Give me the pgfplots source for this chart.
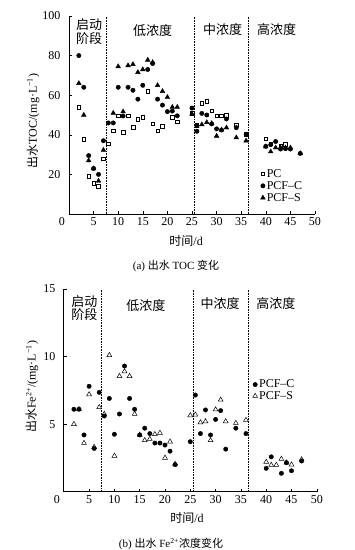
\documentclass[border=0pt]{standalone}
\usepackage{pgfplots}
\pgfplotsset{compat=1.18}
\usepackage{fontspec}
\setmainfont{Liberation Serif}
\newfontfamily\cjk{Noto Sans CJK SC}

\pgfplotstableread{
x y
2 54
3 37.7
4 19.2
5 15.5
6 14
7 28
8 35.5
9 42
10 49.6
11 41.4
12 49.6
13 43.8
14 48
15 49
16 62
17 45.5
18 42
19 44.4
21 48.8
22 46.6
25 51
26 44.9
27 56
28 57
29 52.2
30 49.7
31 49.7
32 50
34 45
36 40.2
40 38
41 35.5
43 34.5
44 35.3
}\tocPC

\pgfplotstableread{
x y
2 80
3 64
4 29.5
5 23
6 20
7 37
8 46
9 46
10 64
11 49.5
12 64
13 62.5
14 58
15 65
16 73
17 76
18 58
19 55
20 51.7
21 52
22 49.6
25 53.5
26 41.8
27 50.8
28 50
29 45.5
30 43
31 42.4
32 48
34 43.6
36 40.3
40 34.2
41 35
42 36.6
43 32.8
44 33
45 32.8
47 30.6
}\tocC

\pgfplotstableread{
x y
2 66
3 50
4 27
5 23
6 16.7
7 32.3
9 51
10 74.5
11 51.7
12 75
13 75.6
14 71.6
15 73
16 77.8
17 76.6
18 65
19 62
20 59
21 54
22 54
25 50.5
26 44.5
27 45.2
28 46.3
29 45.8
30 39.4
31 42.5
32 43.6
34 38.6
36 37
40 34
41 31.5
42 33.5
43 33.5
44 33.5
45 33.5
47 30.6
}\tocS

\pgfplotstableread{
x y
2 6.1
3 6.1
4 4.2
5 7.8
6 3.2
7 7.35
8 5.6
9 6.9
10 4.25
11 5.75
12 9.3
13 6.9
14 6.1
15 4.2
16 4.7
17 4.3
18 3.6
19 3.6
20 3.45
21 3.0
22 2.0
25 3.7
26 7.15
27 4.3
28 6.05
29 4.2
30 5.35
31 6.0
32 3.15
34 4.7
36 4.3
40 1.73
41 2.58
43 1.36
44 2.15
45 1.55
47 2.27
}\feC

\pgfplotstableread{
x y
2 5.0
3 6.1
4 3.6
5 7.2
6 3.3
7 6.25
8 5.75
9 10.1
10 2.65
11 8.55
12 8.9
13 8.55
14 5.75
15 4.2
16 3.8
17 3.9
18 4.25
19 4.35
20 2.5
21 3.7
22 2.05
25 5.65
26 5.7
27 5.12
28 5.2
29 3.8
30 6.08
31 6.8
32 5.2
34 5.08
36 5.3
40 2.2
41 1.98
42 1.98
43 2.42
44 2.15
45 2.0
47 2.38
}\feS

\pgfplotsset{
  panel/.style={
    scale only axis,
    anchor=south west,
    axis lines*=left,
    tick align=inside,
    major tick length=3pt,
    tick style={black, line width=0.5pt},
    axis line style={black, line width=0.6pt},
    xmin=0, xmax=50,
    xtick={5,10,...,50},
    extra x ticks={0},
    extra x tick style={major tick length=0pt, xticklabel style={xshift=-7pt}},
    ticklabel style={font=\fontsize{12}{12}\selectfont},
    /pgf/number format/assume math mode=true,
    yticklabel style={xshift=-5pt},
    clip=false,
    only marks,
    legend image code/.code={\draw[mark repeat=2,mark phase=2,##1] plot coordinates {(0pt,0pt) (3pt,0pt) (7pt,0pt)};},
    legend cell align=left,
    label style={font=\fontsize{12}{13}\selectfont},
  },
}

\begin{document}
\begin{tikzpicture}
\useasboundingbox (0pt,0pt) rectangle (355pt,550pt);

% ---------- (a) TOC ----------
\begin{axis}[panel,
  at={(69pt,336pt)}, width=246pt, height=198pt,
  ymin=0, ymax=100, ytick={20,40,60,80,100},
  xlabel={\cjk 时间\rmfamily/d},
  ylabel={\cjk 出水\rmfamily TOC/(mg·L\textsuperscript{−1})},
  xlabel style={at={(axis description cs:0.476,-0.136)}, anchor=center},
  ylabel style={at={(axis description cs:-0.146,0.47)}, anchor=center},
  legend style={draw=none, fill=none, at={(axis description cs:0.778,0.235)}, anchor=north west,
    font=\fontsize{12}{12}\selectfont, row sep=-0.5pt, inner sep=0pt, nodes={inner sep=1.5pt}},
]
\addplot[mark=square, mark size=1.8pt, black, mark options={line width=0.5pt}] table {\tocPC};
\addlegendentry{PC}
\addplot[mark=*, mark size=2.2pt, black] table {\tocC};
\addlegendentry{PCF--C}
\addplot[mark=triangle*, mark size=2.7pt, black] table {\tocS};
\addlegendentry{PCF--S}
\draw[black, densely dotted, line width=0.6pt] (axis cs:7.5,0) -- (axis cs:7.5,100);
\draw[black, densely dotted, line width=0.6pt] (axis cs:25.5,0) -- (axis cs:25.5,100);
\draw[black, densely dotted, line width=0.6pt] (axis cs:36.5,0) -- (axis cs:36.5,100);
\node[font=\cjk\fontsize{13}{14}\selectfont, align=center] at (axis cs:4.1,91.9) {启动\\阶段};
\node[font=\cjk\fontsize{13}{14}\selectfont] at (axis cs:17,92.4) {低浓度};
\node[font=\cjk\fontsize{13}{14}\selectfont] at (axis cs:31.2,93) {中浓度};
\node[font=\cjk\fontsize{13}{14}\selectfont] at (axis cs:42.2,93) {高浓度};
\end{axis}
\node[font=\fontsize{11}{12}\selectfont] at (176pt,284pt) {(a) {\cjk 出水} TOC {\cjk 变化}};

% ---------- (b) Fe2+ ----------
\begin{axis}[panel,
  at={(63.8pt,58.3pt)}, width=253pt, height=202.7pt,
  ymin=0, ymax=15, ytick={5,10,15},
  xlabel={\cjk 时间\rmfamily/d},
  ylabel={\cjk 出水\rmfamily Fe\textsuperscript{2+}/(mg·L\textsuperscript{−1})},
  xlabel style={at={(axis description cs:0.487,-0.13)}, anchor=center},
  ylabel style={at={(axis description cs:-0.126,0.517)}, anchor=center},
  legend style={draw=none, fill=none, at={(axis description cs:0.746,0.56)}, anchor=north west,
    font=\fontsize{12}{12}\selectfont, row sep=-1pt, inner sep=0pt, nodes={inner sep=1.5pt}},
]
\addplot[mark=*, mark size=2.2pt, black] table {\feC};
\addlegendentry{PCF--C}
\addplot[mark=triangle, mark size=2.8pt, black, mark options={line width=0.5pt}] table {\feS};
\addlegendentry{PCF--S}
\draw[black, densely dotted, line width=0.6pt] (axis cs:7.5,0) -- (axis cs:7.5,15);
\draw[black, densely dotted, line width=0.6pt] (axis cs:25.5,0) -- (axis cs:25.5,15);
\draw[black, densely dotted, line width=0.6pt] (axis cs:36.5,0) -- (axis cs:36.5,15);
\node[font=\cjk\fontsize{13}{13}\selectfont, align=center] at (axis cs:4.05,13.6) {启动\\阶段};
\node[font=\cjk\fontsize{13}{14}\selectfont] at (axis cs:16.2,13.75) {低浓度};
\node[font=\cjk\fontsize{13}{14}\selectfont] at (axis cs:30.9,13.9) {中浓度};
\node[font=\cjk\fontsize{13}{14}\selectfont] at (axis cs:41.9,13.9) {高浓度};
\end{axis}
\node[font=\fontsize{11}{12}\selectfont] at (171pt,6pt) {(b) {\cjk 出水} Fe\textsuperscript{2+}{\cjk 浓度变化}};
\end{tikzpicture}
\end{document}
